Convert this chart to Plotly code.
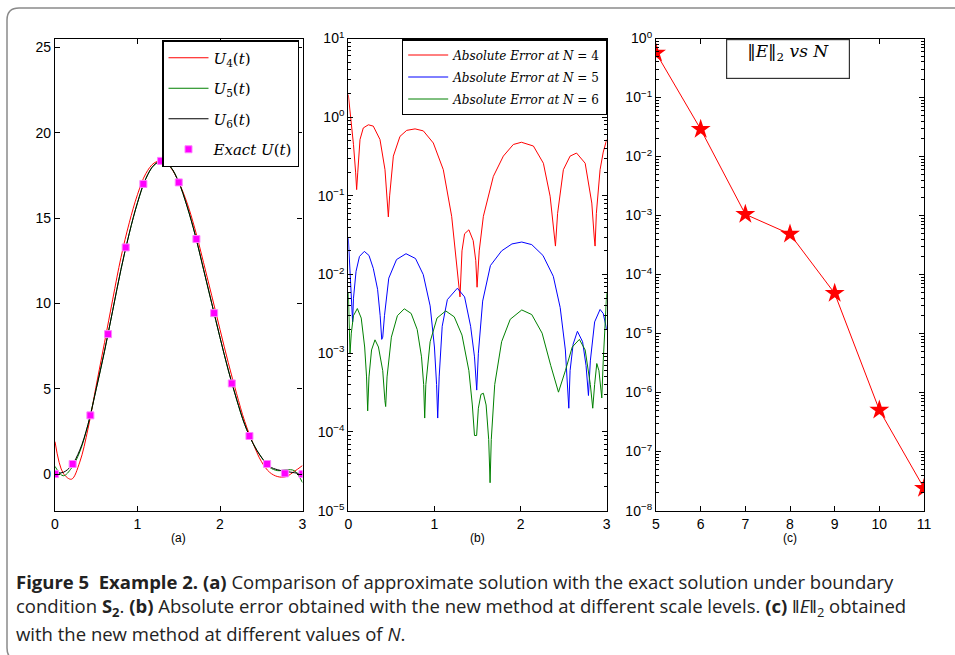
import plotly.graph_objects as go

W, H = 955, 655

# ---------------- (a) approximate vs exact solution ----------------
t_exact = [0.0, 0.214, 0.429, 0.643, 0.857, 1.071, 1.286, 1.5, 1.714, 1.929,
           2.143, 2.357, 2.571, 2.786, 3.0]
u_exact = [0.0, 0.59, 3.44, 8.2, 13.28, 17.0, 18.35, 17.09, 13.77, 9.43,
           5.31, 2.23, 0.59, 0.04, 0.0]

t_grid = [0.0, 0.1, 0.2, 0.3, 0.4, 0.5, 0.6, 0.7, 0.8, 0.9, 1.0, 1.1, 1.2, 1.3,
          1.4, 1.5, 1.6, 1.7, 1.8, 1.9, 2.0, 2.1, 2.2, 2.3, 2.4, 2.5, 2.6, 2.7,
          2.8, 2.9, 3.0]
u4 = [1.9, 0.05, -0.3, 0.7, 2.65, 5.2, 7.7, 10.25, 12.7, 14.72, 16.38, 17.6,
      18.22, 18.35, 17.97, 17.1, 15.9, 14.3, 12.4, 10.45, 8.47, 6.53, 4.73,
      3.08, 1.81, 0.75, 0.11, -0.15, -0.15, 0.15, 0.5]
u5 = [0.45, -0.1, 0.35, 1.3, 2.9, 5.0, 7.2, 9.6, 12.0, 14.1, 15.9, 17.3, 18.1,
      18.35, 18.0, 17.1, 15.7, 14.0, 12.0, 10.0, 8.0, 6.1, 4.4, 2.9, 1.8, 1.0,
      0.4, 0.2, 0.25, 0.2, -0.5]
u6 = [0.05, 0.1, 0.5, 1.4, 2.9, 5.0, 7.2, 9.6, 12.0, 14.1, 15.9, 17.3, 18.1,
      18.35, 18.0, 17.1, 15.7, 14.0, 12.0, 10.0, 8.0, 6.1, 4.4, 2.9, 1.8, 1.0,
      0.45, 0.25, 0.15, 0.08, 0.0]

# ---------------- (b) absolute errors ----------------
t_e4 = [0.0, 0.03, 0.06, 0.085, 0.097, 0.11, 0.136, 0.174, 0.233, 0.29, 0.368,
        0.426, 0.45, 0.465, 0.48, 0.523, 0.6, 0.678, 0.775, 0.871, 0.987, 1.103,
        1.2, 1.259, 1.297, 1.32, 1.35, 1.4, 1.45, 1.48, 1.495, 1.52, 1.568,
        1.684, 1.8, 1.916, 2.01, 2.149, 2.265, 2.343, 2.38, 2.395, 2.405, 2.43,
        2.497, 2.575, 2.65, 2.75, 2.827, 2.855, 2.865, 2.88, 2.923, 2.96, 3.0]
e4 = [1.94, 0.95, 0.45, 0.2, 0.12, 0.2, 0.52, 0.73, 0.8, 0.77, 0.52, 0.215,
      0.1, 0.054, 0.1, 0.32, 0.57, 0.68, 0.71, 0.67, 0.47, 0.215, 0.055, 0.014,
      0.0052, 0.02, 0.033, 0.037, 0.027, 0.015, 0.0069, 0.02, 0.055, 0.177,
      0.32, 0.45, 0.48, 0.43, 0.26, 0.099, 0.04, 0.024, 0.023, 0.06, 0.215,
      0.32, 0.35, 0.26, 0.081, 0.03, 0.023, 0.06, 0.215, 0.36, 0.52]

t_e5 = [0.0, 0.02, 0.04, 0.05, 0.06, 0.09, 0.13, 0.186, 0.24, 0.29, 0.34, 0.37,
        0.388, 0.4, 0.42, 0.47, 0.56, 0.67, 0.78, 0.87, 0.95, 1.0, 1.025, 1.038,
        1.055, 1.09, 1.15, 1.266, 1.35, 1.42, 1.465, 1.491, 1.51, 1.56, 1.65,
        1.78, 1.9, 2.014, 2.13, 2.26, 2.38, 2.46, 2.52, 2.545, 2.56, 2.575, 2.61,
        2.66, 2.72, 2.76, 2.788, 2.81, 2.86, 2.923, 2.96, 3.0]
e5 = [0.029, 0.012, 0.005, 0.0025, 0.005, 0.011, 0.017, 0.0197, 0.0175, 0.012,
      0.0065, 0.003, 0.0015, 0.0016, 0.003, 0.009, 0.0155, 0.0184, 0.016, 0.01,
      0.004, 0.0012, 0.0004, 0.00015, 0.0005, 0.0022, 0.0048, 0.0067, 0.0052,
      0.0022, 0.0009, 0.00034, 0.001, 0.0046, 0.013, 0.02, 0.0245, 0.0259,
      0.024, 0.0175, 0.0095, 0.0038, 0.0011, 0.0004, 0.0002, 0.0006, 0.0013,
      0.0019, 0.0014, 0.0007, 0.00029, 0.0008, 0.0025, 0.0036, 0.0032, 0.002]

t_e6 = [0.0, 0.01, 0.02, 0.035, 0.06, 0.105, 0.15, 0.19, 0.212, 0.225, 0.24,
        0.27, 0.31, 0.35, 0.4, 0.425, 0.434, 0.45, 0.5, 0.57, 0.65, 0.73, 0.8,
        0.85, 0.875, 0.887, 0.9, 0.95, 1.03, 1.131, 1.23, 1.32, 1.4, 1.44,
        1.465, 1.49, 1.51, 1.54, 1.568, 1.6, 1.63, 1.646, 1.66, 1.7, 1.78, 1.88,
        2.014, 2.13, 2.25, 2.35, 2.44, 2.52, 2.6, 2.683, 2.75, 2.81, 2.838,
        2.86, 2.885, 2.91, 2.943, 2.96, 2.98, 3.0]
e6 = [0.0059, 0.0022, 0.001, 0.0018, 0.003, 0.0037, 0.0028, 0.0012, 0.0005,
      0.000185, 0.0005, 0.0011, 0.00148, 0.0012, 0.0006, 0.00025, 0.00021,
      0.0005, 0.0016, 0.003, 0.00367, 0.0032, 0.002, 0.0009, 0.0004, 0.00015,
      0.0004, 0.0014, 0.0028, 0.00345, 0.0029, 0.0017, 0.0006, 0.00022,
      0.00009, 0.00009, 0.0002, 0.0003, 0.00031, 0.00022, 0.00008, 0.0000226,
      0.00008, 0.0004, 0.0014, 0.0027, 0.00355, 0.0031, 0.0018, 0.0007,
      0.00032, 0.0006, 0.0012, 0.0015, 0.0011, 0.0004, 0.0002, 0.0004, 0.00074,
      0.0006, 0.00027, 0.0008, 0.0025, 0.0058]

# ---------------- (c) L2 error against N ----------------
n_levels = [5, 6, 7, 8, 9, 10, 11]
l2_err = [0.57, 0.029, 1.05e-3, 4.85e-4, 4.8e-5, 5.07e-7, 2.4e-8]

# tick labels
lin_ticks_a = [0, 5, 10, 15, 20, 25]
x_ticks_ab = [0, 1, 2, 3]
x_ticks_c = [5, 6, 7, 8, 9, 10, 11]
dec_b = [-5, -4, -3, -2, -1, 0, 1]
dec_c = [-8, -7, -6, -5, -4, -3, -2, -1, 0]


def pow_label(p):
    return "10<sup>" + ("\u2212" + str(-p) if p < 0 else str(p)) + "</sup>"


def px(x):
    return x / W


def py(y):
    return 1 - y / H


fig = go.Figure()

# (a)
fig.add_trace(go.Scatter(x=t_grid, y=u4, mode="lines", line=dict(color="#ff0000", width=1, shape="spline"),
                         name="<i>U</i><sub>4</sub>(<i>t</i>)", xaxis="x", yaxis="y",
                         legend="legend", legendgroup="a1"))
fig.add_trace(go.Scatter(x=t_grid, y=u5, mode="lines", line=dict(color="#008000", width=1, shape="spline"),
                         name="<i>U</i><sub>5</sub>(<i>t</i>)", xaxis="x", yaxis="y",
                         legend="legend", legendgroup="a2"))
fig.add_trace(go.Scatter(x=t_grid, y=u6, mode="lines", line=dict(color="#000000", width=1, shape="spline"),
                         name="<i>U</i><sub>6</sub>(<i>t</i>)", xaxis="x", yaxis="y",
                         legend="legend", legendgroup="a3"))
fig.add_trace(go.Scatter(x=t_exact, y=u_exact, mode="markers",
                         marker=dict(symbol="square", size=7, color="#ff00ff",
                                     line=dict(color="#ff80ff", width=1)),
                         name="<i>Exact U</i>(<i>t</i>)", xaxis="x", yaxis="y",
                         legend="legend", legendgroup="a4"))

# (b)
for tt, ee, col, lvl, grp in [(t_e4, e4, "#ff0000", 4, "b1"),
                              (t_e5, e5, "#0000ff", 5, "b2"),
                              (t_e6, e6, "#008000", 6, "b3")]:
    fig.add_trace(go.Scatter(x=tt, y=ee, mode="lines", line=dict(color=col, width=1),
                             name="<i>Absolute Error at N</i> = %d" % lvl,
                             xaxis="x2", yaxis="y2", legend="legend2", legendgroup=grp))

# (c)
fig.add_trace(go.Scatter(x=n_levels, y=l2_err, mode="lines+markers",
                         line=dict(color="#ff0000", width=1),
                         marker=dict(symbol="star", size=15, color="#ff0000"),
                         showlegend=False, xaxis="x3", yaxis="y3"))

ydom = [py(510.6), py(38.5)]
tickfont = dict(family="Liberation Sans, Arial, sans-serif", size=14, color="#000")
axis_common = dict(showline=True, linecolor="black", linewidth=1.2, mirror="allticks",
                   ticks="inside", ticklen=5, tickcolor="black", showgrid=False,
                   zeroline=False, tickfont=tickfont, automargin=False, fixedrange=True)

minor_log = dict(ticks="inside", ticklen=3, tickcolor="black", dtick="D1", showgrid=False)

fig.update_layout(
    width=W, height=H,
    margin=dict(l=0, r=0, t=0, b=0),
    paper_bgcolor="white", plot_bgcolor="white",
    xaxis=dict(domain=[px(55), px(302.5)], range=[0, 3], tickvals=x_ticks_ab,
               anchor="y", **axis_common),
    yaxis=dict(domain=ydom, range=[-2.14, 25.52], tickvals=lin_ticks_a,
               anchor="x", **axis_common),
    xaxis2=dict(domain=[px(348.3), px(606.7)], range=[0, 3], tickvals=x_ticks_ab,
                anchor="y2", **axis_common),
    yaxis2=dict(domain=ydom, type="log", range=[-5, 1], tickvals=[10 ** p for p in dec_b],
                ticktext=[pow_label(p) for p in dec_b], anchor="x2", minor=minor_log,
                **axis_common),
    xaxis3=dict(domain=[px(656), px(924)], range=[5, 11], tickvals=x_ticks_c,
                anchor="y3", **axis_common),
    yaxis3=dict(domain=ydom, type="log", range=[-8, 0], tickvals=[10 ** p for p in dec_c],
                ticktext=[pow_label(p) for p in dec_c], anchor="x3", minor=minor_log,
                **axis_common),
    legend=dict(x=px(162), y=py(40), xanchor="left", yanchor="top",
                bgcolor="white", bordercolor="black", borderwidth=1.5,
                font=dict(family="DejaVu Serif, serif", size=15, color="#000"),
                tracegroupgap=8, itemwidth=40),
    legend2=dict(x=px(401.7), y=py(39), xanchor="left", yanchor="top",
                 bgcolor="white", bordercolor="black", borderwidth=1.5,
                 font=dict(family="DejaVu Serif, serif", size=12, color="#000"),
                 tracegroupgap=3, itemwidth=40),
    showlegend=True,
)

# norm label box in (c)
fig.add_annotation(x=px(788), y=py(38.5), xref="paper", yref="paper",
                   xanchor="center", yanchor="top",
                   text="\u2016<i>E</i>\u2016<sub>2</sub> <i>vs N</i>",
                   showarrow=False, font=dict(family="DejaVu Serif, serif", size=17, color="#000"),
                   bgcolor="white", bordercolor="#333", borderwidth=1.2,
                   width=120, height=36, valign="top", align="center", borderpad=1)

# panel tags
for cx, tag in [(178.5, "(a)"), (477.5, "(b)"), (790, "(c)")]:
    fig.add_annotation(x=px(cx), y=py(538), xref="paper", yref="paper", text=tag,
                       xanchor="center", yanchor="middle", showarrow=False,
                       font=dict(family="Liberation Sans, Arial", size=12, color="#000"))

# caption
cap_font = dict(family="Open Sans, sans-serif", size=18.5, color="#222")
caption = [
    "<b>Figure 5  Example 2. (a)</b> Comparison of approximate solution with the exact solution under boundary",
    "condition <b>S<sub>2</sub></b>. <b>(b)</b> Absolute error obtained with the new method at different scale levels. <b>(c)</b> \u2016<i>E</i>\u2016<sub>2</sub> obtained",
    "with the new method at different values of <i>N</i>.",
]
for i, line in enumerate(caption):
    fig.add_annotation(x=px(14), y=py(581 + 26 * i), xref="paper", yref="paper",
                       xanchor="left", yanchor="middle", text=line, showarrow=False,
                       font=cap_font, align="left")

# rounded frame around the figure
r = 12
frame = ("M {xr},{yt} L {xa},{yt} Q {xl},{yt} {xl},{yb1} L {xl},{yb2} Q {xl},{ybb} {xa},{ybb} L {xr},{ybb}"
         .format(xr=px(960), xa=px(7 + r), xl=px(7), yt=py(8), yb1=py(8 + r),
                 yb2=py(660 - r), ybb=py(660)))
fig.add_shape(type="path", path=frame, xref="paper", yref="paper",
              line=dict(color="#8a8a8a", width=1.5), layer="below")

fig.write_html("out.html")
